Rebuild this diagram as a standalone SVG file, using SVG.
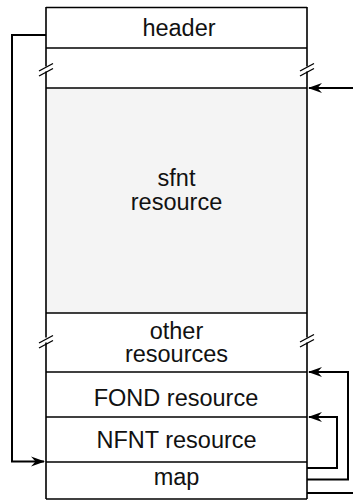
<svg xmlns="http://www.w3.org/2000/svg" width="353" height="500" viewBox="0 0 353 500">
  <style>
    .edge { fill: none; stroke: #000; stroke-width: 1.6; }
    .div { fill: none; stroke: #000; stroke-width: 1.6; }
    .brk { fill: none; stroke: #000; stroke-width: 1.4; }
    .wire { fill: none; stroke: #000; stroke-width: 2; }
    .lbl { font-family: "Liberation Sans", Arial, Helvetica, sans-serif; font-size: 23.5px; fill: #111; text-anchor: middle; }
  </style>
  <defs>
    <marker id="barb" markerUnits="userSpaceOnUse" markerWidth="16" markerHeight="12" viewBox="-14 -6 16 12" refX="-1" refY="0" orient="auto">
      <path d="M0,0 L-14,-5 L-9.5,0 L-14,5 Z" fill="#000"/>
    </marker>
  </defs>

  <rect width="353" height="500" fill="#fff"/>

  <!-- shaded sfnt band -->
  <rect x="46" y="88" width="261" height="225" fill="#f4f4f4"/>

  <!-- column outline, broken where the sections are elided -->
  <g id="column">
    <path class="edge" d="M46,7.5 H307"/>
    <path class="edge" d="M46,7 V66.5 M46,71.5 V337.5 M46,342.5 V499"/>
    <path class="edge" d="M307,7 V66.5 M307,71.5 V337.5 M307,342.5 V499"/>
    <path class="edge" d="M46,499 H307" stroke="#999"/>
    <!-- break marks -->
    <path class="brk" d="M39,71 L53,63.5 M39,76 L53,68.5"/>
    <path class="brk" d="M300,71 L314,63.5 M300,76 L314,68.5"/>
    <path class="brk" d="M39,343 L53,335.5 M39,348 L53,340.5"/>
    <path class="brk" d="M300,342 L314,334.5 M300,347 L314,339.5"/>
  </g>

  <g id="header">
    <path class="div" d="M46,48 H307"/>
    <text class="lbl" x="179" y="36">header</text>
  </g>

  <g id="gap">
    <path class="div" d="M46,88 H307"/>
  </g>

  <g id="sfnt">
    <text class="lbl" x="176.5" y="186">sfnt</text>
    <text class="lbl" x="176.5" y="210">resource</text>
  </g>

  <g id="other">
    <path class="div" d="M46,313 H307"/>
    <text class="lbl" x="176.5" y="339">other</text>
    <text class="lbl" x="176.5" y="362">resources</text>
  </g>

  <g id="fond">
    <path class="div" d="M46,372 H307"/>
    <text class="lbl" x="176" y="406">FOND resource</text>
  </g>

  <g id="nfnt">
    <path class="div" d="M46,417 H307"/>
    <text class="lbl" x="176.5" y="448">NFNT resource</text>
  </g>

  <g id="map">
    <path class="div" d="M46,462 H307"/>
    <text class="lbl" x="176.5" y="485">map</text>
  </g>

  <g id="connectors">
    <path class="wire" d="M46,35 H12 V461.5 H44" marker-end="url(#barb)"/>
    <path class="wire" d="M353,88 H309" marker-end="url(#barb)"/>
    <path class="wire" d="M307,479.5 H348 V372 H309" marker-end="url(#barb)"/>
    <path class="wire" d="M307,468 H337 V417 H309" marker-end="url(#barb)"/>
    <path class="wire" d="M307,493 H353"/>
  </g>
</svg>
